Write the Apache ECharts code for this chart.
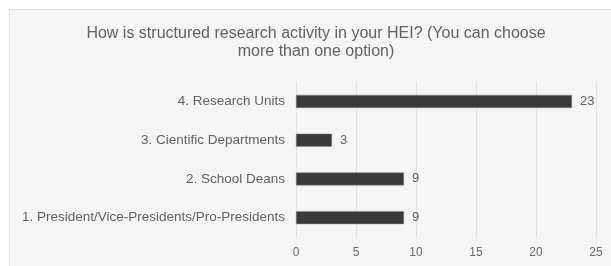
<!DOCTYPE html>
<html>
<head>
<meta charset="utf-8">
<script src="https://cdn.jsdelivr.net/npm/echarts@6/dist/echarts.min.js"></script>
<style>
  html, body { margin: 0; padding: 0; background: #fff; }
  #chart { width: 611px; height: 266px; }
</style>
</head>
<body>
<div id="chart"></div>
<script>
const titleText = 'How is structured research activity in your HEI? (You can choose\nmore than one option)'
const categories = [
    '1. President/Vice-Presidents/Pro-Presidents',
    '2. School Deans',
    '3. Cientific Departments',
    '4. Research Units'
]
const counts = [9, 9, 3, 23]
const xTicks = [0, 5, 10, 15, 20, 25]

const chart = echarts.init(document.getElementById('chart'))

const option = {
    backgroundColor: '#fff',
    animation: false,
    textStyle: { fontFamily: 'Liberation Sans, Arial, sans-serif' },
    graphic: [
        {
            type: 'rect',
            z: -10,
            shape: { x: 9.5, y: 9.5, width: 620, height: 280 },
            style: { fill: '#f5f5f5', stroke: '#e2e2e2', lineWidth: 1 }
        }
    ],
    title: {
        text: titleText,
        left: 311,
        textAlign: 'center',
        top: 20,
        textStyle: {
            fontSize: 16,
            fontWeight: 'normal',
            color: '#616161',
            lineHeight: 18
        }
    },
    grid: { left: 296, right: 15, top: 82, bottom: 29 },
    xAxis: {
        type: 'value',
        min: xTicks[0],
        max: xTicks[xTicks.length - 1],
        interval: 5,
        axisLine: { show: false },
        axisTick: { show: false },
        axisLabel: { color: '#6a6a6a', fontSize: 12, margin: 10 },
        splitLine: { lineStyle: { color: '#e2e2e2', width: 1 } }
    },
    yAxis: {
        type: 'category',
        data: categories,
        axisLine: { show: false },
        axisTick: { show: false },
        axisLabel: { color: '#616161', fontSize: 13.5, margin: 11 }
    },
    series: [
        {
            type: 'bar',
            data: counts,
            barWidth: 13,
            itemStyle: { color: '#3a3a3a', borderColor: '#888', borderWidth: 0.5 },
            label: {
                show: true,
                position: 'right',
                distance: 8,
                color: '#616161',
                fontSize: 13
            }
        }
    ]
}

chart.setOption(option)
</script>
</body>
</html>
